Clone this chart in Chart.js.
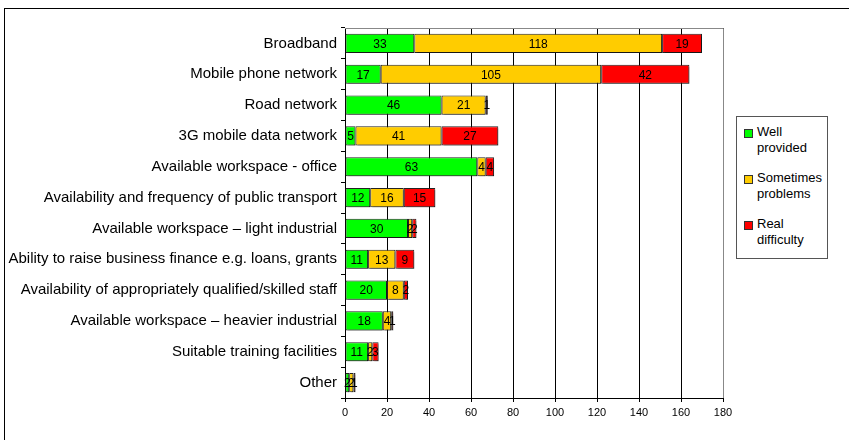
<!DOCTYPE html>
<html>
<head>
<meta charset="utf-8">
<script src="https://cdn.jsdelivr.net/npm/chart.js@4"></script>
<style>
    body { margin: 0; overflow: hidden; background: #fff; font-family: "Liberation Sans", Arial, sans-serif; }
    #frame { position: absolute; left: 4px; top: 8px; width: 900px; height: 500px; border: 1px solid #000; }
    #wrap { position: absolute; left: 0; top: 0; width: 849px; height: 440px; }
    #legend { position: absolute; left: 736px; top: 116px; width: 90px; height: 141px; border: 1px solid #555; background: #fff; font-size: 13px; color: #000; }
    .item { position: absolute; left: 7px; line-height: 16px; }
    .item span.box { position: absolute; left: 0; top: 5px; width: 7px; height: 7px; border: 1px solid #333; }
    .item span.txt { display: block; margin-left: 13px; }
</style>
</head>
<body>
<div id="frame"></div>
<div id="wrap"><canvas id="barChart" width="849" height="440"></canvas></div>
<div id="legend"></div>
<script>
// Categories, top to bottom
const categories = [
    'Broadband',
    'Mobile phone network',
    'Road network',
    '3G mobile data network',
    'Available workspace - office',
    'Availability and frequency of public transport',
    'Available workspace \u2013 light industrial',
    'Ability to raise business finance e.g. loans, grants',
    'Availability of appropriately qualified/skilled staff',
    'Available workspace \u2013 heavier industrial',
    'Suitable training facilities',
    'Other'
];

// Series values
const wellProvided      = [33, 17, 46, 5, 63, 12, 30, 11, 20, 18, 11, 2];
const sometimesProblems = [118, 105, 21, 41, 4, 16, 2, 13, 8, 4, 2, 2];
const realDifficulty    = [19, 42, 1, 27, 4, 15, 2, 9, 2, 1, 3, 1];

const seriesNames  = ['Well provided', 'Sometimes problems', 'Real difficulty'];
const seriesLabels = [['Well', 'provided'], ['Sometimes', 'problems'], ['Real', 'difficulty']];
const seriesColors = ['#00FF00', '#FFCC00', '#FF0000'];

const xMax = 180;
const xStep = 20;

// Draws the value in the middle of each segment
const valueLabels = {
    id: 'valueLabels',
    afterDatasetsDraw(chart) {
        const ctx = chart.ctx;
        ctx.save();
        ctx.font = '12px "Liberation Sans", Arial, sans-serif';
        ctx.fillStyle = '#000';
        ctx.textAlign = 'center';
        ctx.textBaseline = 'middle';
        chart.data.datasets.forEach((ds, i) => {
            chart.getDatasetMeta(i).data.forEach((bar, j) => {
                const v = ds.data[j];
                if (!v) return;
                ctx.fillText(String(v), (bar.x + bar.base) / 2, bar.y + 1);
            });
        });
        ctx.restore();
    }
};

// Grey frame round the plot area and a light shadow under the bars
const plotFrame = {
    id: 'plotFrame',
    beforeDatasetsDraw(chart) {
        const a = chart.chartArea;
        const ctx = chart.ctx;
        ctx.save();
        ctx.strokeStyle = '#888';
        ctx.lineWidth = 1;
        ctx.beginPath();
        ctx.moveTo(a.left, a.top + 0.5);
        ctx.lineTo(a.right + 0.5, a.top + 0.5);
        ctx.lineTo(a.right + 0.5, a.bottom);
        ctx.stroke();
        ctx.restore();
        ctx.save();
        ctx.shadowColor = 'rgba(0,0,0,0.3)';
        ctx.shadowOffsetX = 2;
        ctx.shadowOffsetY = 2;
        ctx.shadowBlur = 0;
    },
    afterDatasetsDraw(chart) {
        chart.ctx.restore();
    }
};

const datasets = [wellProvided, sometimesProblems, realDifficulty].map((values, i) => ({
    label: seriesNames[i],
    data: values,
    backgroundColor: seriesColors[i],
    borderColor: '#222',
    borderWidth: 1,
    borderSkipped: false,
    categoryPercentage: 1,
    barPercentage: 0.62
}));

const barChart = new Chart(document.getElementById('barChart').getContext('2d'), {
    type: 'bar',
    data: { labels: categories, datasets: datasets },
    options: {
        indexAxis: 'y',
        responsive: false,
        animation: false,
        layout: { padding: { top: 28, right: 126, bottom: 0, left: 0 } },
        plugins: {
            legend: { display: false },
            tooltip: { enabled: false }
        },
        scales: {
            x: {
                stacked: true,
                min: 0,
                max: xMax,
                ticks: {
                    stepSize: xStep,
                    color: '#000',
                    padding: 4,
                    font: { family: '"Liberation Sans", Arial, sans-serif', size: 11 }
                },
                grid: { color: '#000', lineWidth: 1, tickLength: 4, tickColor: '#000' },
                border: { color: '#000', width: 1 },
                afterFit(scale) { scale.height = 42; }
            },
            y: {
                stacked: true,
                ticks: {
                    color: '#000',
                    padding: 4,
                    autoSkip: false,
                    font: { family: '"Liberation Sans", Arial, sans-serif', size: 15 }
                },
                grid: { offset: true, drawOnChartArea: false, tickLength: 4, tickColor: '#000' },
                border: { color: '#000', width: 1 },
                afterFit(scale) { scale.width = 345; }
            }
        }
    },
    plugins: [plotFrame, valueLabels]
});

// Legend box
const legend = document.getElementById('legend');
seriesLabels.forEach((lines, i) => {
    const item = document.createElement('div');
    item.className = 'item';
    item.style.top = (7 + i * 46) + 'px';
    item.innerHTML = '<span class="box" style="background:' + seriesColors[i] + '"></span>' +
        '<span class="txt">' + lines.join('<br>') + '</span>';
    legend.appendChild(item);
});
</script>
</body>
</html>
